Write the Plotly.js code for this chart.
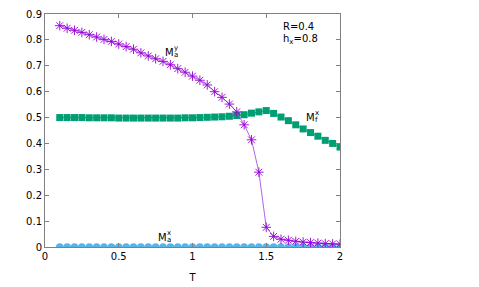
<!DOCTYPE html>
<html>
<head>
<meta charset="utf-8">
<script src="https://cdn.plot.ly/plotly-3.0.1.min.js"></script>
<style>html,body{margin:0;padding:0;background:#fff;}</style>
</head>
<body>
<div id="chart" style="width:479px;height:287px;"></div>
<script>
const T = [0.10,0.15,0.20,0.25,0.30,0.35,0.40,0.45,0.50,0.55,0.60,0.65,0.70,0.75,0.80,0.85,0.90,0.95,1.00,1.05,1.10,1.15,1.20,1.25,1.30,1.35,1.40,1.45,1.50,1.55,1.60,1.65,1.70,1.75,1.80,1.85,1.90,1.95,2.00];
const May = [0.855,0.845,0.837,0.829,0.820,0.811,0.802,0.794,0.784,0.774,0.764,0.750,0.738,0.727,0.717,0.704,0.689,0.675,0.660,0.644,0.626,0.600,0.578,0.552,0.522,0.472,0.414,0.289,0.076,0.041,0.030,0.026,0.022,0.019,0.017,0.015,0.013,0.012,0.011];
const Mfx = [0.500,0.500,0.500,0.500,0.499,0.499,0.499,0.499,0.498,0.498,0.498,0.498,0.498,0.498,0.498,0.498,0.498,0.499,0.499,0.500,0.501,0.502,0.503,0.505,0.508,0.511,0.517,0.522,0.527,0.516,0.502,0.488,0.472,0.456,0.442,0.428,0.412,0.400,0.386];
const Max = [0,0,0,0,0,0,0,0,0,0,0,0,0,0,0,0,0,0,0,0,0,0,0,0,0,0,0,0,0,0,0,0,0,0,0,0,0,0,0];
const xTicks = [0,0.5,1,1.5,2];
const xTickText = ["0","0.5","1","1.5","2"];
const yTicks = [0,0.1,0.2,0.3,0.4,0.5,0.6,0.7,0.8,0.9];
const yTickText = ["0","0.1","0.2","0.3","0.4","0.5","0.6","0.7","0.8","0.9"];

const FONT = "DejaVu Sans, sans-serif";

const traces = [
  {x:T, y:Max, mode:"lines+markers", type:"scatter",
   line:{color:"#56B4E9", width:1},
   marker:{symbol:"circle", size:7.5, color:"#56B4E9"}},
  {x:T, y:Mfx, mode:"lines+markers", type:"scatter",
   line:{color:"#009E73", width:1},
   marker:{symbol:"square", size:7, color:"#009E73"}},
  {x:T, y:May, mode:"lines+markers", type:"scatter",
   line:{color:"#A850E6", width:0.9},
   marker:{symbol:"asterisk-open", size:8, color:"#9400D3", line:{color:"rgba(170,90,235,0.75)", width:0.9}}}
];

function label(x, y, sup, sub) {
  return [
    {x:x, y:y, xref:"x", yref:"y", text:"M", showarrow:false, xanchor:"left", yanchor:"middle",
     font:{family:FONT, size:10, color:"#000"}},
    {x:x, y:y, xref:"x", yref:"y", text:sup, showarrow:false, xanchor:"left", yanchor:"middle",
     xshift:9, yshift:4, font:{family:FONT, size:7, color:"#000"}},
    {x:x, y:y, xref:"x", yref:"y", text:sub, showarrow:false, xanchor:"left", yanchor:"middle",
     xshift:9, yshift:-3, font:{family:FONT, size:7, color:"#000"}}
  ];
}

const annotations = [].concat(
  label(0.80, 0.752, "y", "a"),
  label(1.755, 0.502, "x", "f"),
  label(0.755, 0.038, "x", "a"),
  [
    {x:1.60, y:0.853, xref:"x", yref:"y", text:"R=0.4", showarrow:false, xanchor:"left", yanchor:"middle",
     font:{family:FONT, size:10, color:"#000"}},
    {x:1.60, y:0.800, xref:"x", yref:"y", text:"h<sub>x</sub>=0.8", showarrow:false, xanchor:"left", yanchor:"middle",
     font:{family:FONT, size:10, color:"#000"}}
  ]
);

const layout = {
  width:479, height:287,
  margin:{l:45, r:139, t:14, b:40},
  paper_bgcolor:"#fff", plot_bgcolor:"#fff",
  showlegend:false,
  font:{family:FONT, size:10, color:"#000"},
  xaxis:{range:[0,2], tickvals:xTicks, ticktext:xTickText, ticks:"inside", ticklen:4,
         tickcolor:"#808080", showline:true, mirror:"ticks", linecolor:"#808080", linewidth:1,
         showgrid:false, zeroline:false, tickfont:{family:FONT, size:10},
         title:{text:"T", font:{family:FONT, size:10}, standoff:12}},
  yaxis:{range:[0,0.9], tickvals:yTicks, ticktext:yTickText, ticks:"inside", ticklen:4,
         tickcolor:"#808080", showline:true, mirror:"ticks", linecolor:"#808080", linewidth:1,
         showgrid:false, zeroline:false, tickfont:{family:FONT, size:10}},
  annotations:annotations
};

Plotly.newPlot("chart", traces, layout, {displayModeBar:false, staticPlot:true});
</script>
</body>
</html>
